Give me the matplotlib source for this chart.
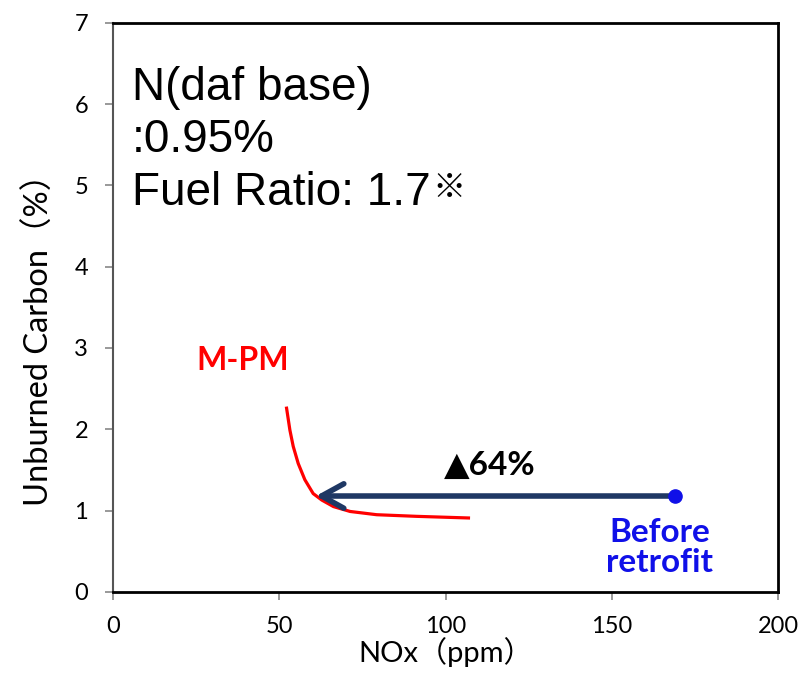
import matplotlib.pyplot as plt

# M-PM curve
mpm_nox = [52.2, 53.2, 54.2, 55.7, 57.7, 60.2, 62.8, 66.3, 71.3, 79.3, 91.3, 106.9]
mpm_uc = [2.26, 1.99, 1.79, 1.58, 1.38, 1.21, 1.13, 1.05, 0.99, 0.95, 0.93, 0.91]

before_nox = 169.0
before_uc = 1.18
arrow_tip = (61.0, 1.18)

xticks = [0, 50, 100, 150, 200]
yticks = [0, 1, 2, 3, 4, 5, 6, 7]

note_lines = ['N(daf base)', ':0.95%', 'Fuel Ratio: 1.7']

tick_font = ['Lato', 'DejaVu Sans']
label_font = ['Lato', 'Noto Sans CJK JP']
main_font = ['Liberation Sans', 'Noto Sans CJK JP']

fig = plt.figure(figsize=(8.06, 6.85), dpi=100)
ax = fig.add_axes([0.1402, 0.1358, 0.8251, 0.8311])

ax.plot(mpm_nox, mpm_uc, color='#ff0000', lw=2.3, zorder=3)
ax.annotate('', xy=arrow_tip, xytext=(before_nox, before_uc),
            arrowprops=dict(arrowstyle='->,head_length=0.4,head_width=0.22',
                            color='#1f3864', lw=4, mutation_scale=40,
                            shrinkA=0, shrinkB=0),
            zorder=4)
ax.plot([before_nox], [before_uc], 'o', color='#1010e8', ms=9.5, zorder=5)

ax.set_xlim(0, 200)
ax.set_ylim(0, 7)
ax.set_xticks(xticks)
ax.set_yticks(yticks)
for lab in ax.get_xticklabels() + ax.get_yticklabels():
    lab.set_family(tick_font)
    lab.set_fontsize(17)
ax.tick_params(axis='both', direction='out', length=6, color='#888888', width=1.2)
ax.tick_params(axis='x', pad=11)
ax.tick_params(axis='y', pad=12)
for s in ax.spines.values():
    s.set_linewidth(2)
    s.set_color('black')
ax.spines['left'].set_color('#555555')
ax.spines['left'].set_linewidth(1.5)

ax.set_xlabel('NOx（ppm）', family=label_font, fontsize=21, labelpad=0)
ax.set_ylabel('Unburned Carbon（%）', family=label_font, fontsize=23.5)
ax.yaxis.set_label_coords(-0.088, 0.457)

# note text, three lines
for t, yb in zip(note_lines, [100, 152, 205]):
    fr = fig.text(132 / 806, 1 - yb / 685, t, fontsize=33, family=main_font, va='baseline')
ax.annotate('※', xy=(1, 0), xycoords=fr, xytext=(1, 12), textcoords='offset points',
            fontsize=24, family=['Noto Sans CJK JP'], va='baseline', ha='left')

ax.text(39.1, 2.85, 'M-PM', color='#ff0000', fontsize=23, fontweight='bold',
        family=['Lato'], ha='center', va='center')
ax.text(113.4, 1.56, '▲64%', color='black', fontsize=24, fontweight='bold',
        family=['Lato', 'DejaVu Sans'], ha='center', va='center')
ax.text(164.5, 0.55, 'Before\nretrofit', color='#1010e8', fontsize=24, fontweight='bold',
        family=['Lato'], ha='center', va='center', linespacing=1.05)

fig.savefig('out.png', dpi=100)
